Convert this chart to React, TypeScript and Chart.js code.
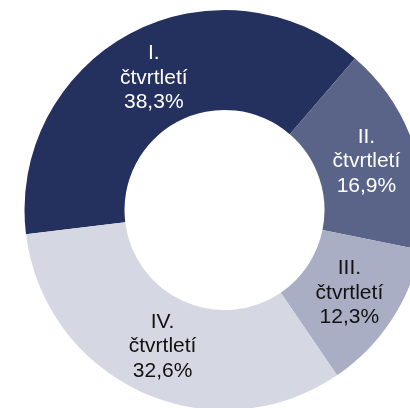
import React, { useEffect, useRef } from "react";
import { Chart, registerables } from "chart.js";

Chart.register(...registerables);

const categories: string[][] = [
  ["I.", "čtvrtletí"],
  ["II.", "čtvrtletí"],
  ["III.", "čtvrtletí"],
  ["IV.", "čtvrtletí"],
];
const values: number[] = [38.3, 16.9, 12.3, 32.6];
const valueLabels: string[] = ["38,3%", "16,9%", "12,3%", "32,6%"];
const colors: string[] = ["#24305e", "#5a6489", "#aaaec4", "#d5d8e2"];
const textColors: string[] = ["#ffffff", "#ffffff", "#111111", "#111111"];

const labelPlugin = {
  id: "arcLabels",
  afterDatasetsDraw(chart: any) {
    const ctx = chart.ctx;
    const meta = chart.getDatasetMeta(0);
    ctx.save();
    ctx.font = '21px "Liberation Sans", Arial, sans-serif';
    ctx.textAlign = "center";
    ctx.textBaseline = "middle";
    const lh = 24.5;
    meta.data.forEach((arc: any, i: number) => {
      const p = arc.getCenterPoint();
      const lines = [...categories[i], valueLabels[i]];
      ctx.fillStyle = textColors[i];
      lines.forEach((t, j) => {
        ctx.fillText(t, p.x, p.y + (j - (lines.length - 1) / 2) * lh);
      });
    });
    ctx.restore();
  },
};

export default function App() {
  const ref = useRef<HTMLCanvasElement | null>(null);
  useEffect(() => {
    if (!ref.current) return;
    const chart = new Chart(ref.current, {
      type: "doughnut",
      data: {
        labels: categories.map((c) => c.join(" ")),
        datasets: [
          {
            data: values,
            backgroundColor: colors,
            borderWidth: 0,
            clip: false as any,
          },
        ],
      },
      options: {
        responsive: false,
        animation: false,
        rotation: 263,
        radius: 200,
        cutout: "50%",
        layout: { padding: { left: 39, top: 12, right: 0, bottom: 0 } },
        plugins: {
          legend: { display: false },
          tooltip: { enabled: false },
        },
      } as any,
      plugins: [labelPlugin],
    });
    return () => chart.destroy();
  }, []);
  return (
    <div
      style={{
        position: "fixed",
        left: 0,
        top: 0,
        width: 410,
        height: 408,
        overflow: "hidden",
        background: "#fff",
      }}
    >
      <canvas ref={ref} width={410} height={408} style={{ display: "block" }} />
    </div>
  );
}
